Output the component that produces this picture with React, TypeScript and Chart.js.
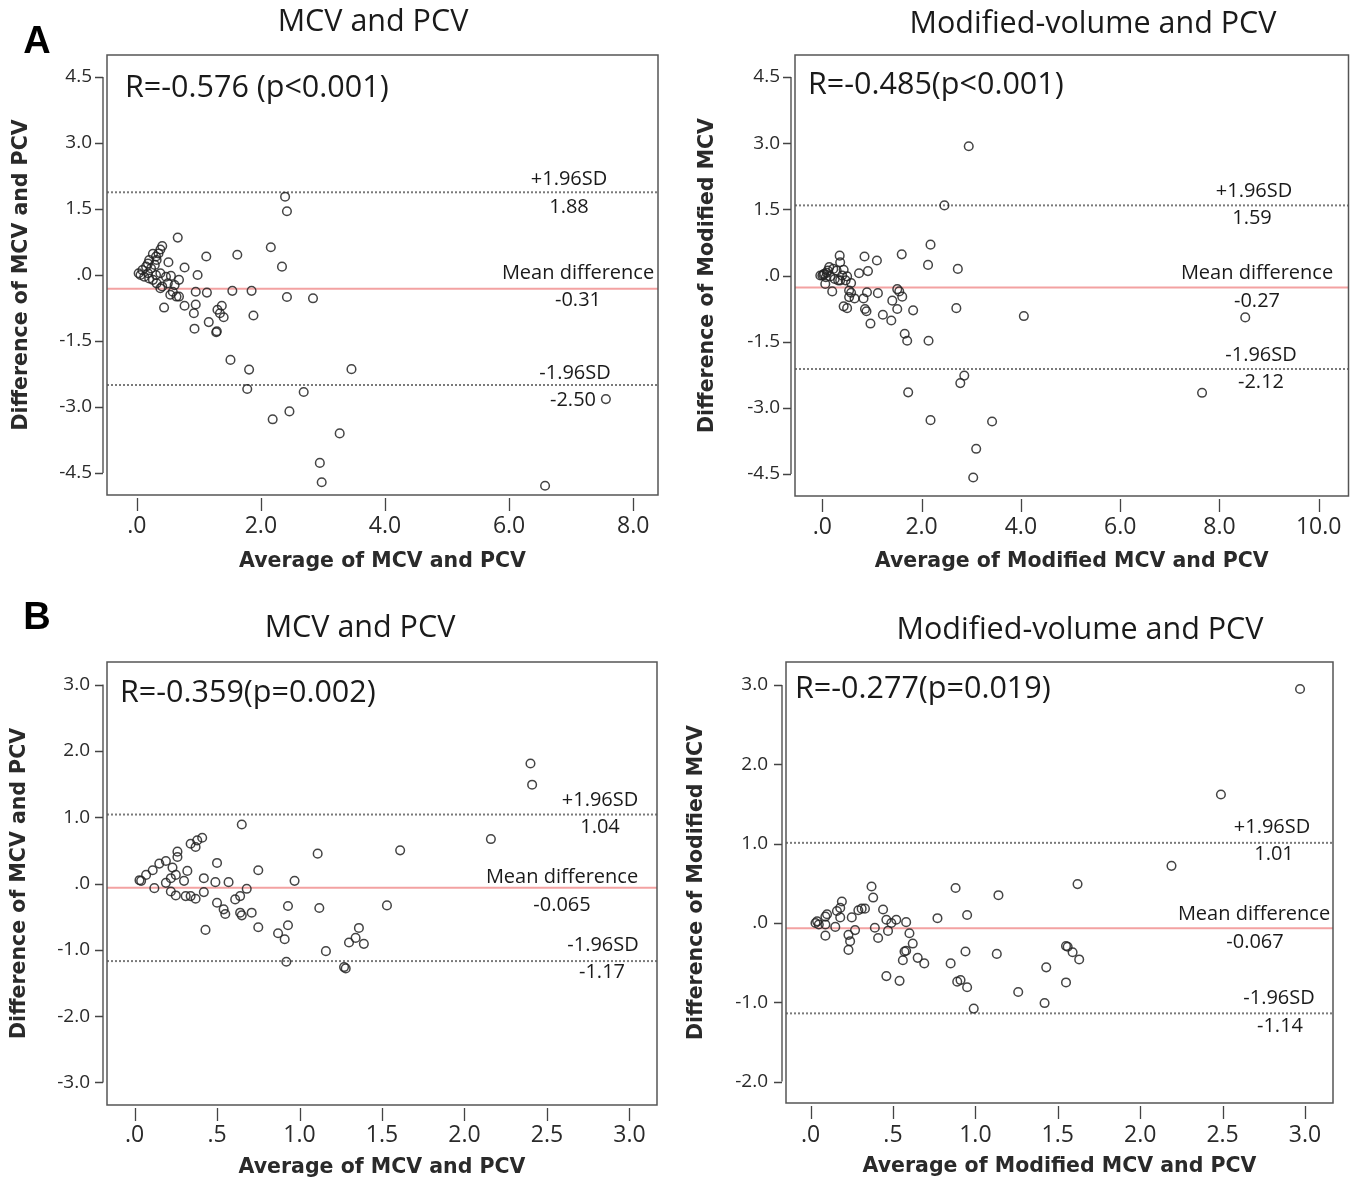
import React, { useEffect, useRef } from "react";
import { Chart, registerables } from "chart.js";

Chart.register(...registerables);

// ---------- Panel A, left: MCV and PCV ----------
const aLeftAvg = [
  2.39, 2.42, 0.66, 2.16, 1.62, 1.12, 0.51, 0.77, 2.34, 0.98, 0.95, 1.13, 1.54, 1.85, 2.42, 2.84,
  0.44, 0.77, 0.95, 0.92, 1.37, 1.3, 1.34, 1.4, 1.88, 0.93, 1.16, 1.28, 1.29, 1.51, 1.81, 3.46,
  1.78, 2.69, 7.56, 2.19, 2.46, 3.27, 2.95, 2.98, 6.58,
  0.41, 0.38, 0.35, 0.31, 0.26, 0.2, 0.18, 0.15, 0.09, 0.03, 0.06, 0.12, 0.18, 0.23, 0.31, 0.38,
  0.47, 0.55, 0.68, 0.61, 0.5, 0.41, 0.32, 0.26, 0.2, 0.38, 0.54, 0.64, 0.68, 0.58, 0.29, 0.32,
];
const aLeftDiff = [
  1.78, 1.45, 0.85, 0.63, 0.46, 0.42, 0.29, 0.17, 0.19, 0.0, -0.38, -0.4, -0.36, -0.36, -0.5, -0.53,
  -0.74, -0.7, -0.67, -0.87, -0.7, -0.79, -0.87, -0.96, -0.92, -1.22, -1.07, -1.3, -1.28, -1.93, -2.15, -2.14,
  -2.59, -2.66, -2.82, -3.28, -3.1, -3.6, -4.27, -4.71, -4.79,
  0.66, 0.58, 0.49, 0.42, 0.48, 0.34, 0.26, 0.19, 0.11, 0.04, 0.0, -0.04, 0.04, 0.15, 0.0, 0.04,
  -0.04, -0.02, -0.11, -0.23, -0.19, -0.26, -0.19, -0.11, -0.08, -0.3, -0.45, -0.49, -0.49, -0.38, 0.23, 0.34,
];
const aLeftRefs = [1.88, -0.31, -2.5]; // +1.96SD, mean, -1.96SD
const aLeftRefText = ["+1.96SD", "1.88", "Mean difference", "-0.31", "-1.96SD", "-2.50"];
const aLeftXTicks = [0, 2, 4, 6, 8];
const aLeftYTicks = [4.5, 3, 1.5, 0, -1.5, -3, -4.5];

// ---------- Panel A, right: Modified-volume and PCV ----------
const aRightAvg = [
  2.95, 2.46, 2.18, 2.13, 2.73, 1.6, 0.85, 1.1, 0.92, 0.74, 0.35, 0.36, 1.51, 1.55, 1.61, 1.12,
  0.9, 1.41, 1.51, 1.83, 2.7, 4.06, 8.52, 1.22, 1.39, 0.97, 0.86, 0.89, 0.83, 0.65, 0.58, 0.54,
  0.5, 0.43, 1.66, 1.71, 2.14, 2.86, 2.78, 1.73, 7.65, 2.18, 3.42, 3.1, 3.04,
  -0.04, 0.04, 0.07, 0.11, 0.14, 0.22, 0.29, 0.43, 0.4, 0.5, 0.58, 0.47, 0.36, 0.25, 0.2, 0.06,
  0.16, 0.0, 0.32, 0.54, 0.02, 0.09,
];
const aRightDiff = [
  2.93, 1.59, 0.7, 0.24, 0.15, 0.48, 0.43, 0.34, 0.1, 0.05, 0.45, 0.3, -0.31, -0.36, -0.48, -0.4,
  -0.38, -0.57, -0.76, -0.79, -0.74, -0.92, -0.95, -0.89, -1.02, -1.09, -0.76, -0.81, -0.52, -0.52, -0.39, -0.49,
  -0.74, -0.7, -1.32, -1.48, -1.48, -2.27, -2.44, -2.65, -2.66, -3.28, -3.31, -3.93, -4.58,
  0.0, 0.04, -0.04, 0.11, 0.19, 0.15, 0.11, 0.13, 0.0, -0.02, -0.17, -0.11, -0.11, -0.08, -0.36, -0.19,
  -0.02, 0.0, -0.11, -0.34, 0.02, 0.06,
];
const aRightRefs = [1.59, -0.27, -2.12];
const aRightRefText = ["+1.96SD", "1.59", "Mean difference", "-0.27", "-1.96SD", "-2.12"];
const aRightXTicks = [0, 2, 4, 6, 8, 10];
const aRightYTicks = [4.5, 3, 1.5, 0, -1.5, -3, -4.5];

// ---------- Panel B, left: MCV and PCV ----------
const bLeftAvg = [
  2.4, 2.41, 2.16, 1.61, 0.65, 1.11, 0.97, 0.75, 0.5, 0.41, 0.38, 0.37, 0.34, 0.26, 0.26, 0.19,
  0.15, 0.23, 0.11, 0.07, 0.03, 0.04, 0.12, 0.19, 0.22, 0.25, 0.32, 0.3, 0.42, 0.49, 0.57, 0.22,
  0.25, 0.31, 0.34, 0.37, 0.42, 0.43, 0.5, 0.54, 0.55, 0.61, 0.64, 0.68, 0.64, 0.65, 0.71, 0.75,
  0.93, 0.93, 0.87, 0.91, 0.92, 1.12, 1.16, 1.27, 1.28, 1.3, 1.36, 1.34, 1.39, 1.53,
];
const bLeftDiff = [
  1.81, 1.49, 0.67, 0.5, 0.89, 0.45, 0.04, 0.2, 0.31, 0.69, 0.65, 0.55, 0.6, 0.48, 0.4, 0.34,
  0.3, 0.24, 0.2, 0.13, 0.05, 0.04, -0.07, 0.01, 0.08, 0.13, 0.19, 0.04, 0.08, 0.02, 0.02, -0.12,
  -0.18, -0.19, -0.19, -0.23, -0.13, -0.7, -0.29, -0.39, -0.46, -0.24, -0.19, -0.08, -0.44, -0.48, -0.44, -0.66,
  -0.34, -0.63, -0.75, -0.84, -1.18, -0.37, -1.02, -1.26, -1.28, -0.89, -0.67, -0.82, -0.91, -0.33,
];
const bLeftRefs = [1.04, -0.065, -1.17];
const bLeftRefText = ["+1.96SD", "1.04", "Mean difference", "-0.065", "-1.96SD", "-1.17"];
const bLeftXTicks = [0, 0.5, 1, 1.5, 2, 2.5, 3];
const bLeftYTicks = [3, 2, 1, 0, -1, -2, -3];

// ---------- Panel B, right: Modified-volume and PCV ----------
const bRightAvg = [
  2.97, 2.49, 2.19, 1.62, 1.14, 0.88, 0.95, 0.77, 0.37, 0.38, 0.19, 0.18, 0.16, 0.1, 0.09, 0.03,
  0.04, 0.05, 0.09, 0.15, 0.18, 0.25, 0.29, 0.31, 0.33, 0.44, 0.46, 0.49, 0.52, 0.58, 0.39, 0.47,
  0.27, 0.09, 0.23, 0.24, 0.23, 0.41, 0.6, 0.62, 0.57, 0.58, 0.56, 0.65, 0.69, 0.46, 0.54, 0.85,
  0.94, 1.13, 0.89, 0.91, 0.95, 0.99, 1.26, 1.43, 1.42, 1.55, 1.56, 1.59, 1.63, 1.55,
];
const bRightDiff = [
  2.95, 1.62, 0.72, 0.49, 0.35, 0.44, 0.1, 0.06, 0.46, 0.32, 0.27, 0.19, 0.15, 0.11, 0.08, 0.0,
  0.02, -0.02, -0.02, -0.05, 0.07, 0.07, 0.16, 0.18, 0.18, 0.17, 0.04, 0.0, 0.04, 0.01, -0.06, -0.1,
  -0.09, -0.16, -0.15, -0.23, -0.34, -0.19, -0.13, -0.26, -0.36, -0.35, -0.47, -0.44, -0.51, -0.67, -0.73, -0.51,
  -0.36, -0.39, -0.74, -0.72, -0.81, -1.08, -0.87, -0.56, -1.01, -0.29, -0.3, -0.37, -0.46, -0.75,
];
const bRightRefs = [1.01, -0.067, -1.14];
const bRightRefText = ["+1.96SD", "1.01", "Mean difference", "-0.067", "-1.96SD", "-1.14"];
const bRightXTicks = [0, 0.5, 1, 1.5, 2, 2.5, 3];
const bRightYTicks = [3, 2, 1, 0, -1, -2];

// ---------- shared text ----------
const titleMCV = "MCV and PCV";
const titleMod = "Modified-volume and PCV";
const xTitleMCV = "Average of MCV and PCV";
const xTitleMod = "Average of Modified MCV and PCV";
const yTitleMCV = "Difference of MCV and PCV";
const yTitleMod = "Difference of Modified MCV";

type Txt = { x: number; y: number };
type PanelCfg = {
  left: number; top: number; width: number; height: number;
  box: { l: number; t: number; r: number; b: number };
  xMin: number; xMax: number; yMin: number; yMax: number;
  xTicks: number[]; yTicks: number[];
  avg: number[]; diff: number[]; refs: number[]; refText: string[];
  refPos: Txt[];
  title: string; titlePos: Txt;
  rText: string; rPos: Txt;
  letter?: string; letterPos?: Txt;
  xTitle: string; yTitle: string;
  xTitlePad: number; yTitlePad: number;
  yTickPad: number; xTickPad: number;
};

const panels: PanelCfg[] = [
  {
    left: 0, top: 0, width: 680, height: 590,
    box: { l: 107, t: 55, r: 658, b: 495 },
    xMin: -0.48, xMax: 8.4, yMin: -5, yMax: 5,
    xTicks: aLeftXTicks, yTicks: aLeftYTicks,
    avg: aLeftAvg, diff: aLeftDiff, refs: aLeftRefs, refText: aLeftRefText,
    refPos: [{ x: 569, y: 179 }, { x: 569, y: 207 }, { x: 578, y: 273 }, { x: 578, y: 300 }, { x: 575, y: 373 }, { x: 573, y: 400 }],
    title: titleMCV, titlePos: { x: 373, y: 22 },
    rText: "R=-0.576 (p<0.001)", rPos: { x: 125, y: 88 },
    letter: "A", letterPos: { x: 37, y: 43 },
    xTitle: xTitleMCV, yTitle: yTitleMCV, xTitlePad: 15.7, yTitlePad: 9.7,
    yTickPad: 15, xTickPad: 18,
  },
  {
    left: 680, top: 0, width: 680, height: 590,
    box: { l: 115, t: 55, r: 670, b: 496 },
    xMin: -0.55, xMax: 10.6, yMin: -5, yMax: 5,
    xTicks: aRightXTicks, yTicks: aRightYTicks,
    avg: aRightAvg, diff: aRightDiff, refs: aRightRefs, refText: aRightRefText,
    refPos: [{ x: 574, y: 191 }, { x: 572, y: 218 }, { x: 577, y: 273 }, { x: 577, y: 301 }, { x: 581, y: 355 }, { x: 581, y: 382 }],
    title: titleMod, titlePos: { x: 413, y: 24 },
    rText: "R=-0.485(p<0.001)", rPos: { x: 128, y: 85 },
    xTitle: xTitleMod, yTitle: yTitleMod, xTitlePad: 15.7, yTitlePad: 15.7,
    yTickPad: 15, xTickPad: 18,
  },
  {
    left: 0, top: 600, width: 680, height: 584,
    box: { l: 107, t: 62, r: 657, b: 505 },
    xMin: -0.167, xMax: 3.167, yMin: -3.34, yMax: 3.34,
    xTicks: bLeftXTicks, yTicks: bLeftYTicks,
    avg: bLeftAvg, diff: bLeftDiff, refs: bLeftRefs, refText: bLeftRefText,
    refPos: [{ x: 600, y: 200 }, { x: 600, y: 227 }, { x: 562, y: 277 }, { x: 562, y: 305 }, { x: 603, y: 345 }, { x: 602, y: 372 }],
    title: titleMCV, titlePos: { x: 360, y: 28 },
    rText: "R=-0.359(p=0.002)", rPos: { x: 120, y: 93 },
    letter: "B", letterPos: { x: 37, y: 19 },
    xTitle: xTitleMCV, yTitle: yTitleMCV, xTitlePad: 3.7, yTitlePad: 7.7,
    yTickPad: 17, xTickPad: 17,
  },
  {
    left: 680, top: 600, width: 680, height: 584,
    box: { l: 106, t: 62, r: 653, b: 503 },
    xMin: -0.149, xMax: 3.17, yMin: -2.27, yMax: 3.29,
    xTicks: bRightXTicks, yTicks: bRightYTicks,
    avg: bRightAvg, diff: bRightDiff, refs: bRightRefs, refText: bRightRefText,
    refPos: [{ x: 592, y: 227 }, { x: 594, y: 254 }, { x: 574, y: 314 }, { x: 575, y: 342 }, { x: 599, y: 398 }, { x: 600, y: 426 }],
    title: titleMod, titlePos: { x: 400, y: 30 },
    rText: "R=-0.277(p=0.019)", rPos: { x: 115, y: 89 },
    xTitle: xTitleMod, yTitle: yTitleMod, xTitlePad: 4.7, yTitlePad: 4.7,
    yTickPad: 18, xTickPad: 19,
  },
];

const fmt = (v: number) => {
  let s = Math.abs(v).toFixed(1);
  if (s.startsWith("0")) s = s.slice(1);
  return (v < 0 ? "-" : "") + s;
};

const TEXT_FONT = "'Open Sans', 'Noto Sans', sans-serif";
const AXIS_FONT = "'DejaVu Sans', sans-serif";

function Panel({ cfg }: { cfg: PanelCfg }) {
  const ref = useRef<HTMLCanvasElement>(null);
  useEffect(() => {
    const canvas = ref.current!;
    const pts = cfg.avg.map((x, i) => ({ x, y: cfg.diff[i] }));
    const refLine = (v: number) => [
      { x: cfg.xMin, y: v },
      { x: cfg.xMax, y: v },
    ];
    const decor = {
      id: "decor",
      afterDraw(chart: any) {
        const ctx: CanvasRenderingContext2D = chart.ctx;
        const { left, right, top, bottom } = chart.chartArea;
        const xs = chart.scales.x;
        const ys = chart.scales.y;
        ctx.save();
        ctx.strokeStyle = "#555";
        ctx.lineWidth = 1.5;
        ctx.strokeRect(left, top, right - left, bottom - top);
        ctx.lineWidth = 1.3;
        ctx.strokeStyle = "#444";
        ctx.beginPath();
        xs.ticks.forEach((t: any) => {
          const px = Math.round(xs.getPixelForValue(t.value)) + 0.5;
          ctx.moveTo(px, bottom + 3);
          ctx.lineTo(px, bottom + 16);
        });
        const ax = left - 4;
        const yTop = ys.getPixelForValue(cfg.yTicks[0]);
        const yBot = ys.getPixelForValue(cfg.yTicks[cfg.yTicks.length - 1]);
        ctx.moveTo(ax, yTop);
        ctx.lineTo(ax, yBot);
        ys.ticks.forEach((t: any) => {
          const py = Math.round(ys.getPixelForValue(t.value)) + 0.5;
          ctx.moveTo(left - 12, py);
          ctx.lineTo(ax, py);
        });
        ctx.stroke();

        ctx.fillStyle = "#1a1a1a";
        ctx.textBaseline = "middle";
        ctx.textAlign = "center";
        ctx.font = `30.5px ${TEXT_FONT}`;
        ctx.fillText(cfg.title, cfg.titlePos.x, cfg.titlePos.y);
        ctx.textAlign = "left";
        ctx.fillText(cfg.rText, cfg.rPos.x, cfg.rPos.y);
        ctx.textAlign = "center";
        ctx.font = `20px ${TEXT_FONT}`;
        cfg.refText.forEach((s, i) => {
          ctx.fillText(s, cfg.refPos[i].x, cfg.refPos[i].y);
        });
        if (cfg.letter && cfg.letterPos) {
          ctx.font = `bold 38px 'Liberation Sans', Arial, sans-serif`;
          ctx.fillStyle = "#000";
          ctx.fillText(cfg.letter, cfg.letterPos.x, cfg.letterPos.y);
        }
        ctx.restore();
      },
    };

    const chart = new Chart(canvas, {
      type: "scatter",
      data: {
        datasets: [
          {
            data: pts,
            pointRadius: 4.3,
            pointBorderWidth: 1.5,
            pointBorderColor: "rgba(35,35,35,0.85)",
            pointBackgroundColor: "rgba(0,0,0,0)",
            order: 0,
          },
          {
            data: refLine(cfg.refs[0]),
            showLine: true,
            pointRadius: 0,
            borderColor: "#7a7a7a",
            borderWidth: 2,
            borderDash: [2, 2],
            order: 1,
          },
          {
            data: refLine(cfg.refs[1]),
            showLine: true,
            pointRadius: 0,
            borderColor: "#f3a2a2",
            borderWidth: 2,
            order: 1,
          },
          {
            data: refLine(cfg.refs[2]),
            showLine: true,
            pointRadius: 0,
            borderColor: "#7a7a7a",
            borderWidth: 2,
            borderDash: [2, 2],
            order: 1,
          },
        ],
      } as any,
      options: {
        animation: false,
        responsive: false,
        devicePixelRatio: 1,
        events: [],
        layout: {
          padding: { left: 0, top: cfg.box.t, right: cfg.width - cfg.box.r, bottom: 0 },
        },
        plugins: {
          legend: { display: false },
          tooltip: { enabled: false },
          title: { display: false },
        },
        scales: {
          x: {
            type: "linear",
            position: "bottom",
            min: cfg.xMin,
            max: cfg.xMax,
            grid: { display: false, drawTicks: false },
            border: { display: false },
            afterBuildTicks: (s: any) => {
              s.ticks = cfg.xTicks.map((v) => ({ value: v }));
            },
            afterFit: (s: any) => {
              s.height = cfg.height - cfg.box.b;
            },
            ticks: {
              padding: cfg.xTickPad,
              maxRotation: 0,
              autoSkip: false,
              color: "#2a2a2a",
              font: { family: TEXT_FONT, size: 23 },
              callback: (v: any) => fmt(Number(v)),
            },
            title: {
              display: true,
              text: cfg.xTitle,
              color: "#2a2a2a",
              font: { family: AXIS_FONT, size: 20.5, weight: "bold" },
              padding: { top: 0, bottom: cfg.xTitlePad },
            },
          },
          y: {
            type: "linear",
            position: "left",
            min: cfg.yMin,
            max: cfg.yMax,
            grid: { display: false, drawTicks: false },
            border: { display: false },
            afterBuildTicks: (s: any) => {
              s.ticks = cfg.yTicks.map((v) => ({ value: v }));
            },
            afterFit: (s: any) => {
              s.width = cfg.box.l;
            },
            ticks: {
              padding: cfg.yTickPad,
              autoSkip: false,
              color: "#2a2a2a",
              font: { family: TEXT_FONT, size: 19 },
              callback: (v: any) => fmt(Number(v)),
            },
            title: {
              display: true,
              text: cfg.yTitle,
              color: "#2a2a2a",
              font: { family: AXIS_FONT, size: 20.5, weight: "bold" },
              padding: { top: cfg.yTitlePad, bottom: 0 },
            },
          },
        },
      } as any,
      plugins: [decor],
    });
    return () => chart.destroy();
  }, [cfg]);
  return (
    <canvas
      ref={ref}
      width={cfg.width}
      height={cfg.height}
      style={{ position: "absolute", left: cfg.left, top: cfg.top, width: cfg.width, height: cfg.height }}
    />
  );
}

export default function App() {
  return (
    <div style={{ position: "absolute", left: 0, top: 0, width: 1360, height: 1184, background: "#fff", overflow: "hidden" }}>
      {panels.map((p, i) => (
        <Panel key={i} cfg={p} />
      ))}
    </div>
  );
}
